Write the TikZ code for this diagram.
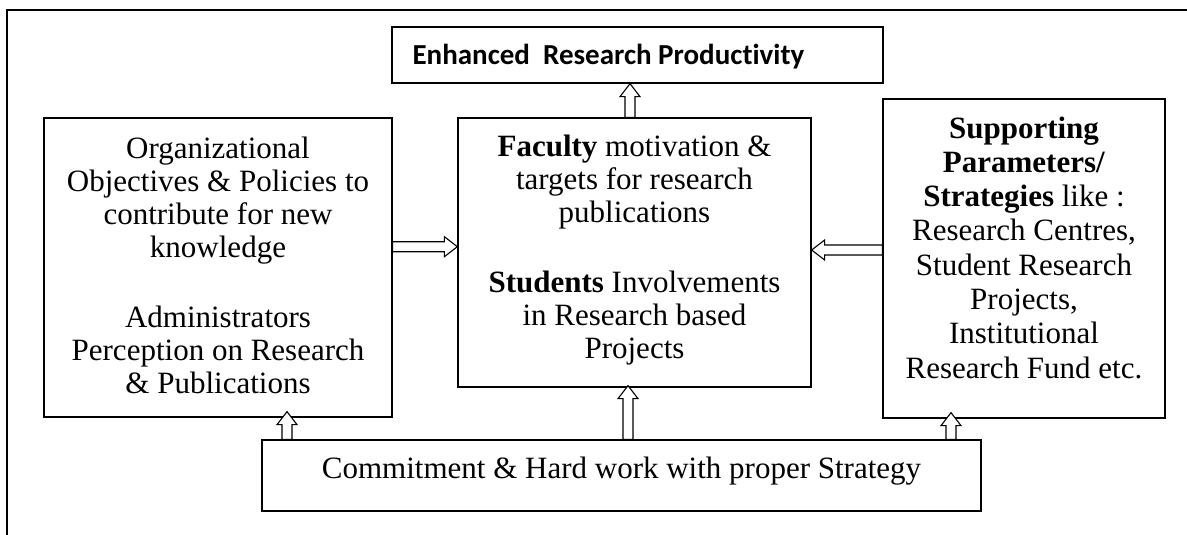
\documentclass[tikz,border=0pt]{standalone}
\usepackage{fontspec}
\setmainfont{Liberation Serif}
\newfontfamily\headfont[Ligatures=NoCommon]{Carlito}
\usetikzlibrary{calc}

\tikzset{
  box/.style={draw, line width=1.3pt, inner sep=0pt},
  txt/.style={align=center, inner sep=0pt, font=\fontsize{31}{33}\selectfont},
  % hollow block arrow between two points
  blockarrow/.style={draw, fill=white, line width=1.1pt, line join=miter,
    to path={($(\tikztostart)!5pt!90:(\tikztotarget)$)
      -- ($(\tikztotarget)!13pt!(\tikztostart)!5pt!-90:(\tikztostart)$)
      -- ($(\tikztotarget)!13pt!(\tikztostart)!10pt!-90:(\tikztostart)$)
      -- (\tikztotarget)
      -- ($(\tikztotarget)!13pt!(\tikztostart)!10pt!90:(\tikztostart)$)
      -- ($(\tikztotarget)!13pt!(\tikztostart)!5pt!90:(\tikztostart)$)
      -- ($(\tikztostart)!5pt!-90:(\tikztotarget)$) -- cycle}}
}

\begin{document}
\begin{tikzpicture}[x=1pt, y=-1pt]
\useasboundingbox (0,0) rectangle (1187,535);

% outer frame
\coordinate (framebl) at (7,540);
\coordinate (frametr) at (1195,10);
\draw[line width=1.3pt] (framebl) |- (frametr);

% boxes
\node[box, minimum width=491pt, minimum height=56pt] (result) at (637.5,55) {};
\node[box, minimum width=348pt, minimum height=299pt] (policy) at (218,267.5) {};
\node[box, minimum width=353pt, minimum height=269pt] (faculty) at (634.5,252.5) {};
\node[box, minimum width=282pt, minimum height=319pt] (support) at (1024,258.5) {};
\node[box, minimum width=719pt, minimum height=71pt] (commit) at (621.5,475.5) {};

% texts
\node[anchor=base west, inner sep=0pt, font=\headfont\bfseries\fontsize{29}{30}\selectfont]
  (resulttxt) at ([xshift=21pt,yshift=-10pt]result.west) {Enhanced\ \ Research Productivity};
\node[txt, anchor=north] (policytxt) at ([yshift=-19pt]policy.north)
  {Organizational\\Objectives \& Policies to\\contribute for new\\knowledge\\[37pt]
   Administrators\\Perception on Research\\\& Publications};
\node[txt, anchor=north] (facultytxt) at ([yshift=-17pt]faculty.north)
  {\textbf{Faculty} motivation \&\\targets for research\\publications\\[37pt]
   \textbf{Students} Involvements\\in Research based\\Projects};
\node[txt, anchor=north, font=\fontsize{31}{34.3}\selectfont] (supporttxt) at ([yshift=-18pt]support.north)
  {\textbf{Supporting}\\\textbf{Parameters/}\\\textbf{Strategies} like :\\Research Centres,\\
   Student Research\\Projects,\\Institutional\\Research Fund etc.};
\node[txt, anchor=base] (committxt) at ([yshift=-39pt]commit.north)
  {Commitment \& Hard work with proper Strategy};

% arrows
\coordinate (a1) at ([yshift=20.8pt]policy.east);
\draw[blockarrow] (a1) to (a1 -| faculty.west);
\coordinate (a2) at ([yshift=8.5pt]support.west);
\draw[blockarrow] (a2) to (a2 -| faculty.east);
\coordinate (a3) at ([xshift=-4.5pt]faculty.north);
\draw[blockarrow] (a3) to (a3 |- result.south);
\coordinate (b1) at ([xshift=-334.5pt]commit.north);
\draw[blockarrow] (b1) to ([yshift=6pt]b1 |- policy.south);
\coordinate (b2) at ([xshift=6.5pt]commit.north);
\draw[blockarrow] (b2) to ([yshift=2pt]b2 |- faculty.south);
\coordinate (b3) at ([xshift=329.5pt]commit.north);
\draw[blockarrow] (b3) to ([yshift=6pt]b3 |- support.south);
\end{tikzpicture}
\end{document}
